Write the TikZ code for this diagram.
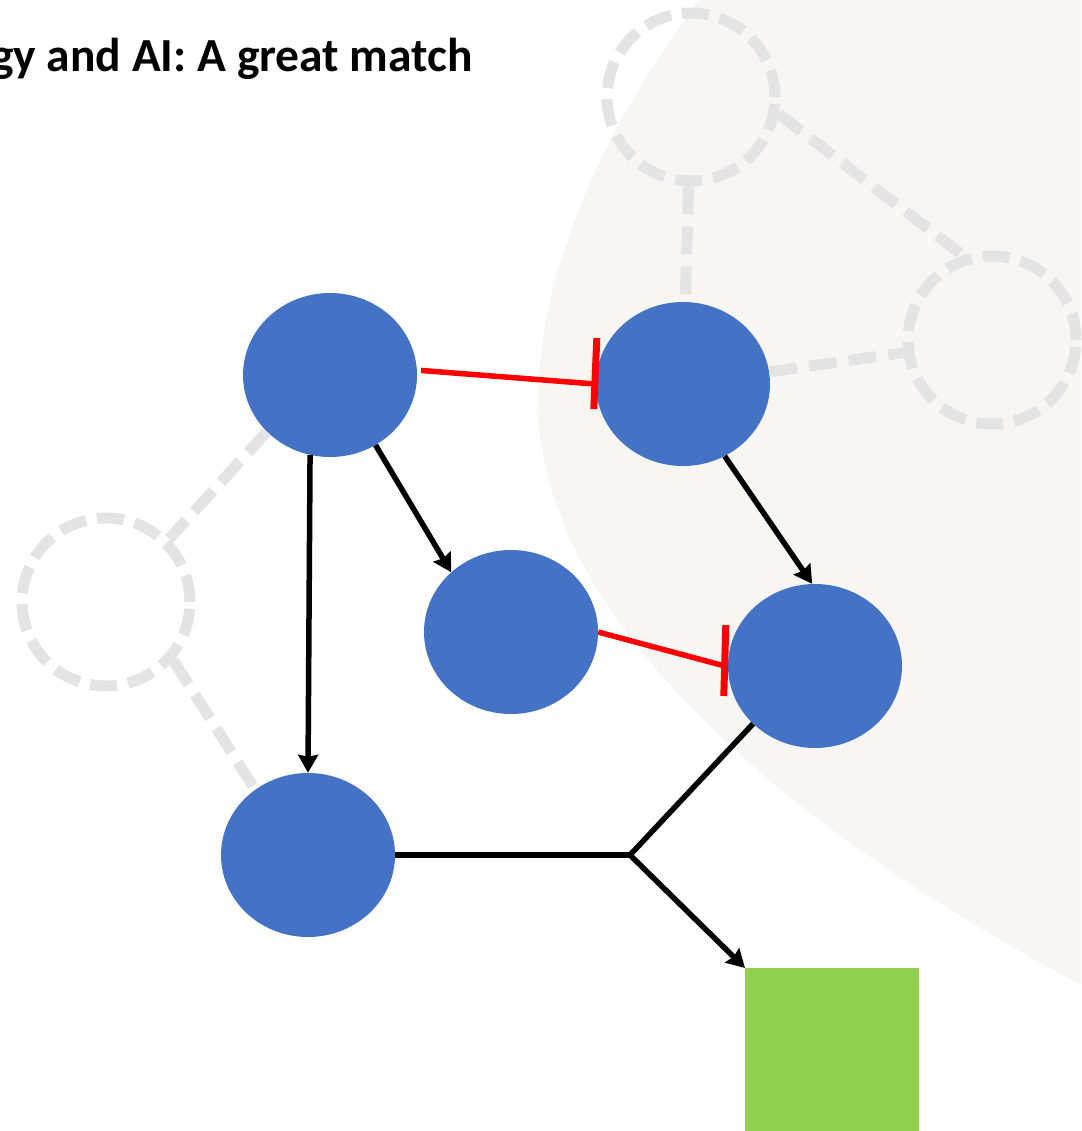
\documentclass[tikz,border=0pt]{standalone}
\usepackage{fontspec}
\setmainfont{Carlito}
\usetikzlibrary{shapes.geometric}
\usetikzlibrary{arrows.meta}

\definecolor{nodeblue}{HTML}{4472C4}
\definecolor{ghostgray}{HTML}{E4E4E4}
\definecolor{bgbeige}{HTML}{F7F6F3}
\definecolor{outgreen}{HTML}{92D050}

\begin{document}
\begin{tikzpicture}
		[x=1pt, y=-1pt, >={Stealth[length=18pt,width=20pt,inset=2pt]},
		main/.style = {fill=nodeblue, ellipse, minimum width=174pt, minimum height=164pt, inner sep=0pt},
		ghost/.style = {draw=ghostgray, circle, line width=11pt, dash pattern=on 27pt off 11pt, minimum size=168pt, inner sep=0pt},
		link/.style = {draw=ghostgray, line width=11pt, dash pattern=on 28pt off 12pt},
		act/.style = {->, line width=5.5pt, line join=round},
		inh/.style = {draw=red, line width=5.5pt},
		bar/.style = {draw=red, line width=7pt}]
        \useasboundingbox (0,0) rectangle (1081,1131);
        \fill[white] (0,0) rectangle (1081,1131);
        \fill[bgbeige] (699,0) .. controls (610,120) and (540,260) .. (538,400)
            .. controls (538,620) and (790,830) .. (1081,985) -- (1081,0) -- cycle;

        \node[anchor=base east, inner sep=0pt, font=\bfseries\fontsize{47.5}{57}\selectfont] (title) at (473,72) {gy and AI: A great match};

        \node[ghost] (6) at (691,97) {};
        \node[ghost] (7) at (992,340) {};
        \node[ghost] (8) at (106,602) {};

        \node[main] (1) at (330,375) {};
        \node[main] (2) at (683,384) {};
        \node[main] (3) at (511,632) {};
        \node[main] (4) at (815,666) {};
        \node[main] (5) at (308,855) {};
        \node[fill=outgreen, minimum width=174pt, minimum height=164pt, inner sep=0pt, anchor=north west] (9) at (745,968) {};
        \coordinate (j) at (630,855);

        \draw[link] (6) -- (2);
        \draw[link] (6.-11) -- (7.109);
        \draw[link] (2.8) -- (7);
        \draw[link] (1.-138) -- (8.45);
        \draw[link] (8.-41) -- (5.129);

        \draw[act] (1.-57) -- (3.135);
        \draw[act] (1.-104) -- (5.north);
        \draw[act] (2.-60) -- (4.92);
        \draw[inh] ([xshift=4pt]1.3) -- ([xshift=-1pt]2.west);
        \draw[bar] (2.west) ++(1,-46) -- ++(-3,71);
        \draw[inh] (3.east) -- ([xshift=-3pt]4.west);
        \draw[bar] (4.west) ++(-2,-41) -- ++(-2,71);
        \draw[line width=5.5pt] (5.east) -- (j);
        \draw[act] (4.-137) -- (j) -- (9.north west);
	\end{tikzpicture}
\end{document}
